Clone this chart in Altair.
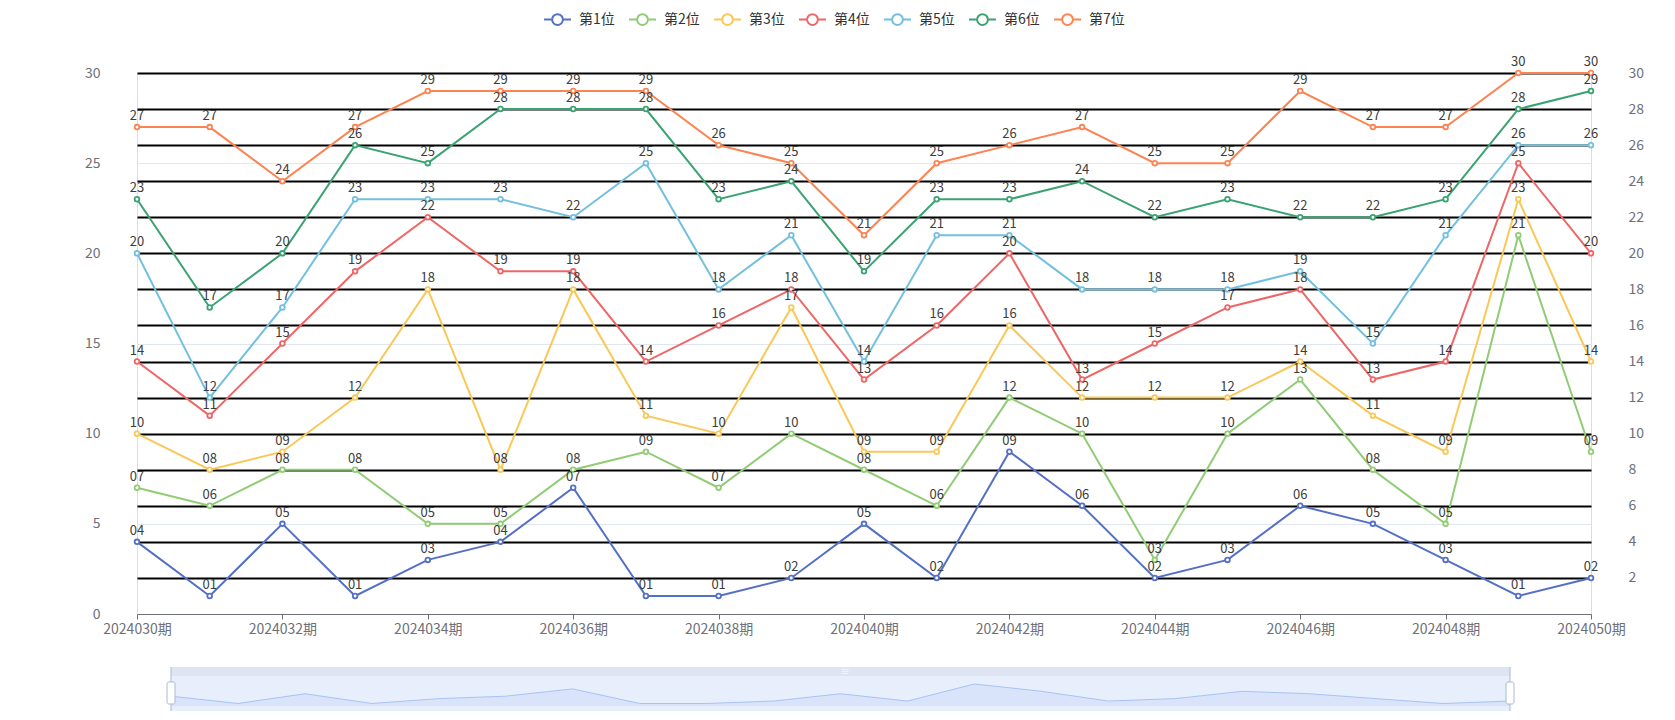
import altair as alt
import pandas as pd

FONT = "Noto Sans CJK SC"

periods = ["2024030期", "2024031期", "2024032期", "2024033期", "2024034期", "2024035期",
           "2024036期", "2024037期", "2024038期", "2024039期", "2024040期", "2024041期",
           "2024042期", "2024043期", "2024044期", "2024045期", "2024046期", "2024047期",
           "2024048期", "2024049期", "2024050期"]
x_ticks = ["2024030期", "2024032期", "2024034期", "2024036期", "2024038期", "2024040期",
           "2024042期", "2024044期", "2024046期", "2024048期", "2024050期"]
series_names = ["第1位", "第2位", "第3位", "第4位", "第5位", "第6位", "第7位"]
pos1 = [4, 1, 5, 1, 3, 4, 7, 1, 1, 2, 5, 2, 9, 6, 2, 3, 6, 5, 3, 1, 2]
pos2 = [7, 6, 8, 8, 5, 5, 8, 9, 7, 10, 8, 6, 12, 10, 3, 10, 13, 8, 5, 21, 9]
pos3 = [10, 8, 9, 12, 18, 8, 18, 11, 10, 17, 9, 9, 16, 12, 12, 12, 14, 11, 9, 23, 14]
pos4 = [14, 11, 15, 19, 22, 19, 19, 14, 16, 18, 13, 16, 20, 13, 15, 17, 18, 13, 14, 25, 20]
pos5 = [20, 12, 17, 23, 23, 23, 22, 25, 18, 21, 14, 21, 21, 18, 18, 18, 19, 15, 21, 26, 26]
pos6 = [23, 17, 20, 26, 25, 28, 28, 28, 23, 24, 19, 23, 23, 24, 22, 23, 22, 22, 23, 28, 29]
pos7 = [27, 27, 24, 27, 29, 29, 29, 29, 26, 25, 21, 25, 26, 27, 25, 25, 29, 27, 27, 30, 30]
colors = ["#5470c6", "#91cc75", "#fac858", "#ee6666", "#73c0de", "#3ba272", "#fc8452"]
left_ticks = [0, 5, 10, 15, 20, 25, 30]
right_ticks = [2, 4, 6, 8, 10, 12, 14, 16, 18, 20, 22, 24, 26, 28, 30]

all_series = [pos1, pos2, pos3, pos4, pos5, pos6, pos7]
rows = []
for name, vals in zip(series_names, all_series):
    for i, (p, v) in enumerate(zip(periods, vals)):
        rows.append({"period": p, "idx": i, "series": name, "value": v, "label": f"{v:02d}"})
df = pd.DataFrame(rows)

slider_df = pd.DataFrame({"idx": list(range(len(pos1))), "v": pos1})
one = pd.DataFrame({"a": [0]})

LEGEND_PATH = ("M-1,0L-0.47,0M0.47,0L1,0"
               "M-0.4,0A0.4,0.4,0,1,1,0.4,0A0.4,0.4,0,1,1,-0.4,0Z")

X = alt.X("period:O", sort=periods,
          scale=alt.Scale(type="point", padding=0),
          axis=alt.Axis(values=x_ticks, title=None, labelAngle=0, grid=False,
                        domainColor="#6E7079", tickColor="#6E7079", tickSize=5,
                        labelColor="#6E7079", labelFontSize=14, labelPadding=3,
                        labelFont=FONT))
Y = alt.Y("value:Q", scale=alt.Scale(domain=[0, 30], nice=False),
          axis=alt.Axis(values=left_ticks, title=None, grid=True, gridColor="#E0E6F1",
                        gridWidth=1, domain=False, ticks=False, labelPadding=37,
                        labelFontSize=14, labelColor="#6E7079", labelFont=FONT))
C = alt.Color("series:N", sort=series_names,
              scale=alt.Scale(domain=series_names, range=colors),
              legend=alt.Legend(orient="none", legendX=406, legendY=-68,
                                direction="horizontal", title=None, columns=7,
                                symbolType=LEGEND_PATH, symbolSize=729,
                                symbolStrokeWidth=2, symbolFillColor="white",
                                labelFontSize=14, labelColor="#333333", labelFont=FONT,
                                columnPadding=10, labelOffset=7, padding=0))

base = alt.Chart(df)
lines = base.mark_line(strokeWidth=2).encode(x=X, y=Y, color=C)
points = base.mark_point(shape="circle", filled=False, fill="white", size=22,
                         strokeWidth=1.8, opacity=1).encode(x=X, y=Y, color=C)
labels = base.mark_text(dy=-7, baseline="alphabetic", fontSize=13, color="#3c3c3c",
                        font=FONT).encode(x=X, y=Y, text="label:N")
main = alt.layer(lines, points, labels).resolve_scale(x="shared", y="shared")

right = alt.Chart(df).mark_rule(opacity=0).encode(
    y=alt.Y("value:Q", scale=alt.Scale(domain=[0, 30], nice=False),
            axis=alt.Axis(orient="right", values=right_ticks, title=None, grid=True,
                          gridColor="black", gridWidth=2, domain=False, ticks=False,
                          labelPadding=37, labelFontSize=14, labelColor="#6E7079",
                          labelFont=FONT)))

# slider (dataZoom look-alike)
band = alt.Chart(one).mark_rect(color="#DEE4F1").encode(
    x=alt.value(34), x2=alt.value(1373), y=alt.value(594), y2=alt.value(603))
grip = alt.Chart(one).mark_text(text="≡", fontSize=9, color="#FFFFFF").encode(
    x=alt.value(708), y=alt.value(599))
body = alt.Chart(one).mark_rect(color="#E7EEFC").encode(
    x=alt.value(34), x2=alt.value(1373), y=alt.value(603), y2=alt.value(638))
sx = alt.X("idx:Q", scale=alt.Scale(domain=[0, 20], range=[34, 1373], nice=False, zero=False),
           axis=None)
sy = alt.Y("v:Q", scale=alt.Scale(domain=[1, 9], range=[630.5, 611], nice=False, zero=False),
           axis=None)
shadow = alt.Chart(slider_df).mark_area(
    color="#D3E0FB", line={"color": "#A9C2F6", "strokeWidth": 1}).encode(
    x=sx, y=sy, y2=alt.value(638))
edge_l = alt.Chart(one).mark_rule(color="#ACB8D1", strokeWidth=1).encode(
    x=alt.value(34), y=alt.value(594), y2=alt.value(638))
edge_r = alt.Chart(one).mark_rule(color="#ACB8D1", strokeWidth=1).encode(
    x=alt.value(1373), y=alt.value(594), y2=alt.value(638))
handle_l = alt.Chart(one).mark_rect(fill="white", stroke="#ACB8D1", strokeWidth=1,
                                    cornerRadius=2).encode(
    x=alt.value(30), x2=alt.value(38), y=alt.value(609), y2=alt.value(631))
handle_r = alt.Chart(one).mark_rect(fill="white", stroke="#ACB8D1", strokeWidth=1,
                                    cornerRadius=2).encode(
    x=alt.value(1369), x2=alt.value(1377), y=alt.value(609), y2=alt.value(631))

chart = alt.layer(main, right, band, grip, body, shadow, edge_l, edge_r,
                  handle_l, handle_r).resolve_scale(
    x="independent", y="independent"
).properties(
    width=1454, height=541,
    padding={"left": 129, "top": 65, "right": 76, "bottom": 98},
    autosize=alt.AutoSizeParams(type="none"),
).configure_view(stroke=None).configure(font=FONT)

chart.save("out.html", embed_options={"renderer": "svg", "actions": False})
